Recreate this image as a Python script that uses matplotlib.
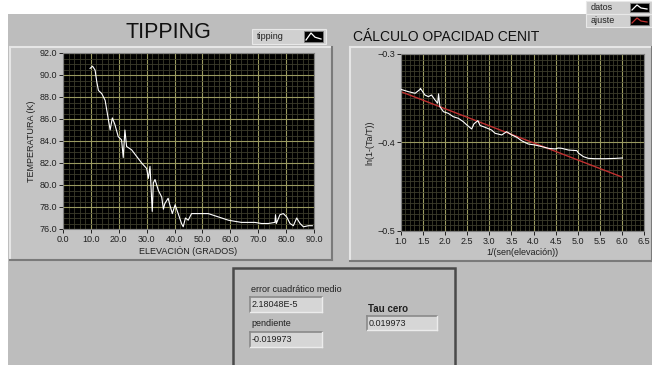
import numpy as np
import matplotlib.pyplot as plt
from matplotlib.patches import Rectangle
from matplotlib.ticker import MultipleLocator

plt.rcParams['font.family'] = ['Liberation Sans', 'DejaVu Sans']

# --- datos ---
elevacion = [9.7, 10.6, 11.5, 12.1, 12.7, 13.9, 15.1, 16.3, 16.9, 17.7, 18.6, 19.8,
             21.0, 21.6, 22.2, 22.8, 24.6, 26.4, 28.2, 30.0, 30.6, 31.2, 32.0, 32.4,
             33.0, 34.2, 35.4, 36.0, 36.5, 37.7, 38.3, 39.2, 40.2, 41.3, 42.5, 43.1,
             43.9, 44.9, 46.1, 48.5, 49.7, 52.1, 54.5, 56.9, 59.3, 61.6, 64.0, 66.4,
             68.8, 71.2, 73.6, 76.0, 76.2, 76.5, 77.8, 79.0, 80.2, 81.4, 82.6, 83.8,
             85.0, 86.2, 88.0, 89.4]
temperatura = [90.6, 90.8, 90.45, 89.4, 88.6, 88.3, 87.7, 85.9, 85.0, 86.1, 85.5, 84.4,
               84.1, 82.5, 85.0, 83.5, 83.2, 82.6, 82.0, 81.5, 80.6, 81.7, 77.6, 80.2,
               80.5, 79.5, 78.9, 77.8, 78.3, 78.8, 78.2, 77.4, 78.2, 77.4, 76.5, 76.2,
               77.0, 76.8, 77.4, 77.4, 77.4, 77.4, 77.2, 77.0, 76.8, 76.7, 76.6, 76.6,
               76.6, 76.5, 76.5, 76.6, 77.3, 76.5, 77.3, 77.4, 77.1, 76.5, 76.3, 77.0,
               76.5, 76.2, 76.3, 76.3]

masa_aire = [1.0, 1.17, 1.32, 1.43, 1.44, 1.54, 1.62, 1.69, 1.77, 1.83, 1.85, 1.88,
             1.96, 2.07, 2.18, 2.30, 2.41, 2.49, 2.60, 2.65, 2.74, 2.79, 2.90, 3.05,
             3.13, 3.28, 3.39, 3.51, 3.62, 3.73, 3.88, 4.03, 4.19, 4.34, 4.49, 4.56,
             4.64, 4.79, 4.98, 5.02, 5.13, 5.24, 5.39, 5.62, 5.84, 6.01]
ln_datos = [-0.340, -0.3426, -0.3444, -0.340, -0.3388, -0.3463, -0.3482, -0.3463,
            -0.352, -0.3557, -0.345, -0.3595, -0.3652, -0.367, -0.3708, -0.3727,
            -0.3765, -0.3802, -0.3847, -0.379, -0.3753, -0.3808, -0.3828, -0.3859,
            -0.3896, -0.3915, -0.3878, -0.3915, -0.3941, -0.398, -0.4017, -0.4028,
            -0.4047, -0.4066, -0.4073, -0.4062, -0.4066, -0.4085, -0.4092, -0.4122,
            -0.416, -0.4179, -0.4183, -0.4183, -0.418, -0.4175]
ajuste_x = [1.0, 6.0]
ajuste_y = [-0.3426, -0.4390]

error_cm = "2.18048E-5"
pendiente = "-0.019973"
tau_cero = "0.019973"

W, H = 652, 365
fig = plt.figure(figsize=(W/100, H/100), dpi=100)
fig.patch.set_facecolor('white')

def rect(x, y, w, h):
    return [x/W, 1-(y+h)/H, w/W, h/H]

# panel de fondo en pixeles
bg = fig.add_axes([0, 0, 1, 1])
bg.set_xlim(0, W)
bg.set_ylim(H, 0)
bg.axis('off')

BG = '#bdbdbd'
PANEL = '#c4c4c4'
bg.add_patch(Rectangle((8, 14), W-8, H-14, fc=BG, ec='none'))

def panel(x, y, w, h):
    bg.add_patch(Rectangle((x, y), w, h, fc=PANEL, ec='none'))
    bg.plot([x, x+w], [y, y], color='#e6e6e6', lw=1.5)
    bg.plot([x, x], [y, y+h], color='#e6e6e6', lw=1.5)
    bg.plot([x, x+w], [y+h, y+h], color='#7a7a7a', lw=1.5)
    bg.plot([x+w, x+w], [y, y+h], color='#7a7a7a', lw=1.5)

panel(10, 47, 322, 213)
panel(350, 47, 302, 214)

def campo(x, y, w, h, txt, bold=False):
    bg.add_patch(Rectangle((x, y), w, h, fc='#d6d6d6', ec='none'))
    bg.plot([x, x+w], [y, y], color='#8a8a8a', lw=1.2)
    bg.plot([x, x], [y, y+h], color='#8a8a8a', lw=1.2)
    bg.plot([x, x+w], [y+h, y+h], color='#ececec', lw=1)
    bg.plot([x+w, x+w], [y, y+h], color='#ececec', lw=1)
    bg.text(x+2, y+h/2, txt, fontsize=6.5, va='center', ha='left', color='#202020')

# caja inferior
bg.add_patch(Rectangle((233, 268), 222, 100, fc=BG, ec='#4a4a4a', lw=1.8))
bg.text(251, 289, 'error cuadrático medio', fontsize=6.5, va='center', color='#202020')
campo(250, 297, 72, 15, error_cm)
bg.text(251, 324, 'pendiente', fontsize=6.5, va='center', color='#202020')
campo(250, 332, 72, 15, pendiente)
bg.text(368, 309, 'Tau cero', fontsize=7, va='center', fontweight='bold', color='#202020')
campo(367, 316, 70, 14, tau_cero)

# titulos
bg.text(168, 33, 'TIPPING', fontsize=15.5, ha='center', va='center', color='#101010')
bg.text(446, 37, 'CÁLCULO OPACIDAD CENIT', fontsize=10, ha='center', va='center',
        color='#101010')

# leyendas
def leyenda(x, y, w, h, nombre, col):
    bg.add_patch(Rectangle((x, y), w, h, fc='#d0d0d0', ec='#e8e8e8', lw=0.8))
    bg.text(x+5, y+h/2, nombre, fontsize=6.5, va='center', color='#202020')
    sx = x+w-22
    bg.add_patch(Rectangle((sx, y+2), 19, h-4, fc='black', ec='#808080', lw=0.6))
    bg.plot([sx+2, sx+7, sx+11, sx+17], [y+h-4, y+4, y+4+(h-8)*0.6, y+h-5],
            color=col, lw=0.9)

leyenda(252, 29, 74, 15, 'tipping', 'white')
leyenda(586, 1, 66, 13, 'datos', 'white')
leyenda(586, 14, 66, 13, 'ajuste', '#c03030')

MAJ = '#9a9a60'
MIN = '#3c3c2c'

def estilo(ax):
    ax.set_facecolor('black')
    ax.grid(which='major', color=MAJ, lw=0.8)
    ax.grid(which='minor', color=MIN, lw=0.6)
    ax.set_axisbelow(True)
    for s in ax.spines.values():
        s.set_color('#808080')
        s.set_linewidth(0.8)
    ax.tick_params(which='major', direction='out', length=3, width=0.7, colors='#202020',
                   labelsize=6.5, pad=1.5)
    ax.tick_params(which='minor', length=0)

# grafica izquierda
ax1 = fig.add_axes(rect(63, 53, 251, 176))
ax1.plot(elevacion, temperatura, color='white', lw=0.8)
ax1.set_xlim(0, 90)
ax1.set_ylim(76, 92)
ax1.xaxis.set_major_locator(MultipleLocator(10))
ax1.xaxis.set_minor_locator(MultipleLocator(2))
ax1.yaxis.set_major_locator(MultipleLocator(2))
ax1.yaxis.set_minor_locator(MultipleLocator(0.5))
ax1.xaxis.set_major_formatter('{x:.1f}')
ax1.yaxis.set_major_formatter('{x:.1f}')
estilo(ax1)
ax1.set_xlabel('ELEVACIÓN (GRADOS)', fontsize=6.5, color='#202020', labelpad=1)
ax1.set_ylabel('TEMPERATURA (K)', fontsize=6.5, color='#202020', labelpad=2)

# grafica derecha
ax2 = fig.add_axes(rect(401, 54, 243, 177))
ax2.plot(masa_aire, ln_datos, color='white', lw=0.8, zorder=3)
ax2.plot(ajuste_x, ajuste_y, color='#c03030', lw=1.0, zorder=2)
ax2.set_xlim(1.0, 6.5)
ax2.set_ylim(-0.5, -0.3)
ax2.xaxis.set_major_locator(MultipleLocator(0.5))
ax2.xaxis.set_minor_locator(MultipleLocator(0.1))
ax2.yaxis.set_major_locator(MultipleLocator(0.1))
ax2.yaxis.set_minor_locator(MultipleLocator(0.00625))
ax2.xaxis.set_major_formatter('{x:.1f}')
ax2.yaxis.set_major_formatter('{x:.1f}')
estilo(ax2)
ax2.set_xlabel('1/(sen(elevación))', fontsize=6.5, color='#202020', labelpad=1)
ax2.set_ylabel('ln(1-(Ta/T))', fontsize=6.5, color='#202020', labelpad=2)

fig.savefig('out.png', dpi=100, facecolor=fig.get_facecolor())
